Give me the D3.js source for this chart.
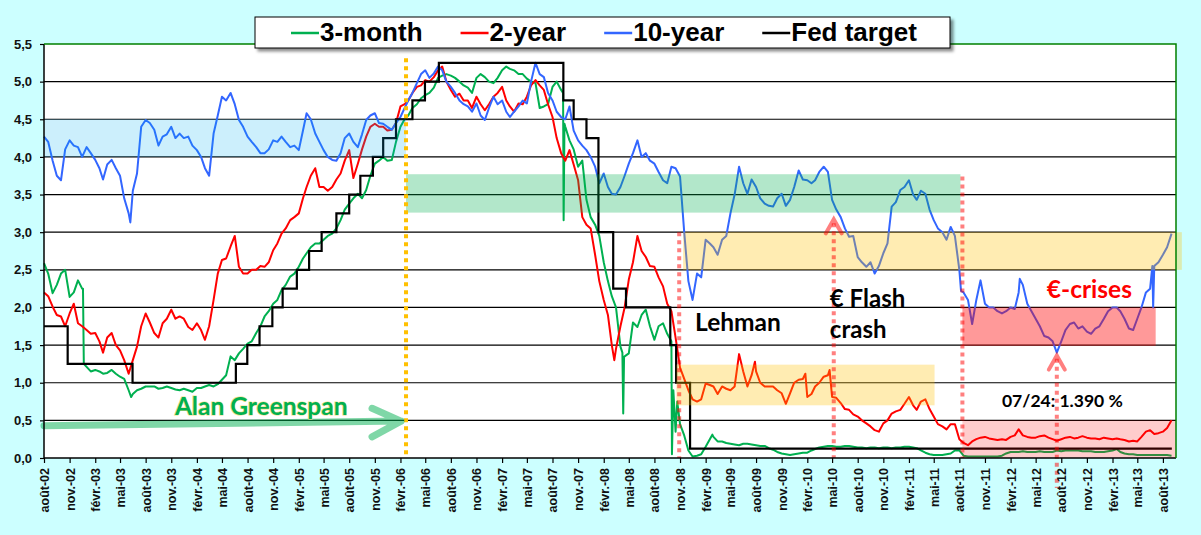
<!DOCTYPE html>
<html lang="fr">
<head>
<meta charset="UTF-8" />
<title>Taux US 2002-2013</title>
<script src="https://d3js.org/d3.v7.min.js"></script>
<style>
  html, body { margin: 0; padding: 0; background: #ccffff; }
  svg { display: block; }
  .axis text { font-family: "Liberation Sans", Arial, sans-serif; font-weight: bold; fill: #111; }
  .note { font-family: Lato, "Open Sans", sans-serif; font-weight: bold; }
  .legend text { font-family: "Liberation Sans", Arial, sans-serif; font-weight: bold; font-size: 26px; fill: #000; }
</style>
</head>
<body>
<svg id="chart" width="1201" height="535"></svg>
<script>
// ---- data ----
const parse = d3.timeParse("%Y-%m-%d");

// first of each month, août-02 .. sept.-13, and the 16th of each month in between
const months = d3.timeMonth.range(new Date(2002, 7, 1), new Date(2013, 8, 2));
const midMonths = months.slice(0, -1).map(d => d3.timeDay.offset(d, 15));

const threeMonth = [
  2.59, 2.19, 2.45, 2.14, 2.36,                                         // 2002
  1.21, 1.17, 1.12, 1.17, 1.08, 0.90, 0.90, 0.95, 0.95, 0.93, 0.93, 0.90, // 2003
  0.90, 0.93, 0.95, 0.95, 1.04, 1.35, 1.39, 1.52, 1.66, 1.88, 2.05, 2.23, // 2004
  2.41, 2.54, 2.72, 2.85, 2.90, 2.98, 3.16, 3.38, 3.51, 3.56, 3.91, 4.00, // 2005
  3.96, 4.40, 4.55, 4.70, 4.82, 4.92, 5.08, 5.08, 5.00, 4.92, 5.05, 5.06, // 2006
  4.98, 5.15, 5.17, 5.10, 5.04, 4.98, 4.67, 4.93, 4.89, 4.22, 3.87, 3.43, // 2007
  3.10, 2.60, 2.15, 1.48, 1.39, 1.74, 1.97, 1.57, 1.79, 1.55, 0.45, 0.10, // 2008
  0.03, 0.15, 0.28, 0.22, 0.19, 0.17, 0.19, 0.17, 0.16, 0.11, 0.06, 0.04, // 2009
  0.06, 0.07, 0.12, 0.15, 0.16, 0.15, 0.16, 0.14, 0.13, 0.14, 0.14, 0.13, // 2010
  0.14, 0.15, 0.13, 0.07, 0.04, 0.04, 0.06, 0.10, 0.02, 0.02, 0.02, 0.02, // 2011
  0.03, 0.08, 0.08, 0.08, 0.08, 0.08, 0.08, 0.09, 0.10, 0.10, 0.09, 0.08, // 2012
  0.08, 0.10, 0.08, 0.05, 0.04, 0.04, 0.04, 0.04, 0.03                    // 2013
];
const threeMonthMid = [
  2.45, 2.30, 2.50, 2.20, 2.25,
  1.15, 1.15, 1.13, 1.12, 1.05, 0.85, 0.92, 0.95, 0.92, 0.95, 0.91, 0.92,
  0.88, 0.93, 0.97, 0.98, 1.10, 1.30, 1.45, 1.55, 1.75, 1.95, 2.10, 2.30,
  2.45, 2.65, 2.80, 2.85, 2.95, 3.05, 3.30, 3.45, 3.45, 3.75, 3.95, 3.95,
  4.20, 4.50, 4.65, 4.78, 4.85, 5.05, 5.10, 5.05, 4.95, 4.85, 5.10, 5.00,
  5.05, 5.20, 5.15, 5.10, 5.00, 4.65, 4.70, 5.00, 4.40, 4.10, 3.95, 3.20,
  2.95, 2.35, 2.00, 1.35, 1.80, 1.90, 1.75, 1.75, 1.65, 0.35, 0.30, 0.02,
  0.05, 0.25, 0.22, 0.20, 0.18, 0.19, 0.18, 0.16, 0.13, 0.08, 0.05, 0.05,
  0.07, 0.10, 0.14, 0.16, 0.15, 0.16, 0.15, 0.14, 0.14, 0.13, 0.14, 0.14,
  0.15, 0.14, 0.10, 0.05, 0.04, 0.05, 0.10, 0.03, 0.02, 0.02, 0.02, 0.02,
  0.06, 0.08, 0.09, 0.08, 0.09, 0.08, 0.10, 0.10, 0.10, 0.09, 0.09, 0.08,
  0.09, 0.12, 0.06, 0.05, 0.04, 0.04, 0.04, 0.04
];
const twoYear = [
  2.20, 2.01, 1.88, 1.92, 1.79,
  1.70, 1.66, 1.40, 1.66, 1.43, 1.12, 1.48, 1.92, 1.66, 1.79, 1.97, 1.88,
  1.74, 1.79, 1.57, 2.10, 2.63, 2.81, 2.54, 2.45, 2.50, 2.54, 2.76, 2.98,
  3.16, 3.25, 3.60, 3.85, 3.60, 3.60, 3.78, 4.09, 3.91, 4.27, 4.44, 4.40,
  4.36, 4.67, 4.75, 4.93, 5.02, 5.06, 5.20, 4.89, 4.84, 4.75, 4.80, 4.62,
  4.80, 4.93, 4.67, 4.71, 4.80, 5.02, 4.89, 4.53, 4.05, 4.09, 3.69, 3.10,
  2.70, 2.10, 1.50, 1.75, 2.37, 2.95, 2.67, 2.54, 2.28, 1.95, 1.20, 0.90,
  0.75, 0.99, 0.95, 0.95, 0.90, 1.38, 0.95, 1.15, 0.95, 0.95, 0.86, 0.86,
  1.04, 0.81, 0.95, 1.08, 0.81, 0.73, 0.64, 0.55, 0.46, 0.37, 0.46, 0.59,
  0.64, 0.81, 0.64, 0.78, 0.55, 0.42, 0.45, 0.25, 0.17, 0.25, 0.28, 0.25,
  0.25, 0.28, 0.38, 0.28, 0.27, 0.30, 0.25, 0.25, 0.28, 0.27, 0.27, 0.26,
  0.27, 0.25, 0.25, 0.22, 0.22, 0.35, 0.32, 0.35, 0.50
];
const twoYearMid = [
  2.15, 1.90, 1.75, 2.05, 1.75,
  1.65, 1.55, 1.60, 1.50, 1.30, 1.30, 1.75, 1.80, 1.60, 1.85, 1.85, 1.85,
  1.70, 1.70, 1.75, 2.45, 2.65, 2.95, 2.45, 2.50, 2.55, 2.60, 2.85, 3.05,
  3.20, 3.45, 3.75, 3.60, 3.55, 3.70, 3.95, 3.72, 4.10, 4.40, 4.40, 4.35,
  4.45, 4.70, 4.85, 4.95, 5.00, 5.15, 5.00, 4.80, 4.75, 4.65, 4.70, 4.70,
  4.85, 4.75, 4.60, 4.70, 4.95, 4.95, 4.70, 4.25, 3.95, 3.90, 3.20, 3.05,
  2.35, 1.90, 1.45, 2.00, 2.60, 2.75, 2.55, 2.40, 2.05, 1.60, 1.05, 0.78,
  0.78, 0.97, 0.85, 0.92, 0.95, 1.15, 1.10, 1.00, 0.95, 0.90, 0.72, 1.00,
  1.05, 0.85, 1.00, 1.10, 0.80, 0.65, 0.58, 0.50, 0.42, 0.35, 0.50, 0.62,
  0.72, 0.70, 0.75, 0.65, 0.45, 0.38, 0.45, 0.20, 0.22, 0.27, 0.26, 0.24,
  0.24, 0.30, 0.30, 0.27, 0.29, 0.27, 0.23, 0.27, 0.26, 0.29, 0.26, 0.25,
  0.26, 0.26, 0.24, 0.23, 0.28, 0.37, 0.33, 0.40
];
const tenYear = [
  4.27, 3.95, 3.69, 4.22, 4.13,
  4.13, 3.96, 3.70, 3.96, 3.75, 3.25, 3.78, 4.49, 4.36, 4.27, 4.40, 4.31,
  4.27, 4.09, 3.85, 4.31, 4.80, 4.85, 4.49, 4.27, 4.13, 4.05, 4.22, 4.27,
  4.13, 4.09, 4.58, 4.31, 4.09, 3.96, 4.05, 4.31, 4.13, 4.49, 4.58, 4.44,
  4.36, 4.53, 4.75, 4.98, 5.15, 5.11, 5.15, 4.93, 4.75, 4.67, 4.71, 4.49,
  4.80, 4.75, 4.53, 4.67, 4.71, 5.25, 5.06, 4.75, 4.53, 4.67, 4.22, 4.09,
  3.87, 3.78, 3.51, 3.60, 3.91, 4.22, 4.05, 3.91, 3.69, 3.87, 3.74, 2.35,
  2.45, 2.90, 2.80, 2.90, 3.25, 3.87, 3.51, 3.60, 3.38, 3.34, 3.51, 3.43,
  3.82, 3.69, 3.69, 3.87, 3.43, 3.20, 2.94, 2.67, 2.54, 2.45, 2.72, 3.34,
  3.56, 3.69, 3.43, 3.51, 3.16, 3.00, 3.07, 2.50, 2.10, 2.10, 2.05, 2.00,
  1.92, 2.00, 2.20, 2.05, 1.85, 1.62, 1.55, 1.55, 1.78, 1.72, 1.68, 1.72,
  1.85, 2.00, 1.95, 1.72, 1.85, 2.20, 2.55, 2.70, 2.98
];
const tenYearMid = [
  4.20, 3.75, 4.10, 4.15, 4.00,
  4.05, 3.85, 3.90, 3.85, 3.45, 3.55, 4.40, 4.45, 4.15, 4.30, 4.25, 4.25,
  4.15, 4.00, 3.75, 4.55, 4.75, 4.70, 4.40, 4.20, 4.05, 4.10, 4.20, 4.20,
  4.15, 4.35, 4.50, 4.20, 4.00, 3.95, 4.25, 4.20, 4.30, 4.55, 4.45, 4.40,
  4.45, 4.65, 4.85, 5.10, 5.05, 5.20, 5.00, 4.85, 4.70, 4.60, 4.55, 4.65,
  4.70, 4.60, 4.60, 4.75, 5.00, 5.10, 4.85, 4.60, 4.50, 4.35, 4.15, 4.00,
  3.65, 3.60, 3.50, 3.75, 4.05, 4.00, 3.95, 3.80, 3.65, 3.85, 3.00, 2.10,
  2.40, 2.85, 2.70, 2.95, 3.50, 3.65, 3.70, 3.45, 3.35, 3.45, 3.35, 3.60,
  3.70, 3.65, 3.80, 3.80, 3.30, 3.05, 2.95, 2.60, 2.60, 2.55, 2.85, 3.40,
  3.60, 3.50, 3.55, 3.30, 3.05, 2.90, 2.95, 2.20, 1.78, 2.36, 2.00, 1.95,
  1.95, 1.98, 2.30, 1.95, 1.75, 1.60, 1.40, 1.70, 1.80, 1.75, 1.65, 1.75,
  1.95, 2.00, 1.85, 1.70, 2.00, 2.25, 2.60, 2.80
];

// spikes and extremes that fall between the sampled days
const threeMonthExtra = [
  ["2002-12-19", 2.25], ["2002-12-22", 1.25], ["2003-06-10", 0.81],
  ["2007-09-08", 4.85], ["2007-09-10", 3.16], ["2007-09-13", 4.44],
  ["2008-04-08", 1.40], ["2008-04-11", 0.59], ["2008-04-14", 1.35],
  ["2008-10-03", 0.05], ["2008-10-08", 0.90], ["2008-10-22", 0.75], ["2009-02-25", 0.31]
];
const twoYearExtra = [
  ["2008-03-10", 1.30], ["2009-07-28", 1.28], ["2010-01-25", 1.12], ["2010-04-22", 1.17]
];
const tenYearExtra = [
  ["2003-06-07", 3.13], ["2011-08-07", 2.22], ["2012-03-05", 2.38],
  ["2013-06-24", 2.55], ["2013-06-27", 2.00]
];

// Fed funds target, value in force from each date
const fedDates = [
  "2002-08-01", "2002-10-25", "2003-06-15", "2004-06-20", "2004-07-31", "2004-09-13",
  "2004-10-29", "2004-12-05", "2005-01-25", "2005-03-10", "2005-04-24", "2005-06-16",
  "2005-08-01", "2005-09-10", "2005-10-25", "2005-12-01", "2006-01-16", "2006-03-16",
  "2006-04-30", "2006-06-19", "2007-09-09", "2007-10-16", "2007-12-01", "2008-01-13",
  "2008-03-06", "2008-04-21", "2008-09-27", "2008-10-18", "2008-12-07", "2013-09-02"
];
const fedRates = [
  1.75, 1.25, 1.00, 1.25, 1.50, 1.75,
  2.00, 2.25, 2.50, 2.75, 3.00, 3.25,
  3.50, 3.75, 4.00, 4.25, 4.50, 4.75,
  5.00, 5.25, 4.75, 4.50, 4.25, 3.00,
  2.25, 2.00, 1.50, 1.00, 0.125, 0.125
];

const seriesNames = ["3-month", "2-year", "10-year", "Fed target"];
const yTicks = [0, 0.5, 1, 1.5, 2, 2.5, 3, 3.5, 4, 4.5, 5, 5.5];
const frMonths = ["janv.", "févr.", "mars", "avr.", "mai", "juin", "juil.", "août", "sept.", "oct.", "nov.", "déc."];

// shaded zones: [from, to, low, high]
const zones = [
  ["2002-08-01", "2006-02-21", 4.0, 4.5],
  ["2006-02-21", "2011-08-05", 3.26, 3.77],
  ["2008-11-12", "2013-10-08", 2.5, 3.0],
  ["2008-10-19", "2011-05-04", 0.70, 1.24],
  ["2011-08-12", "2013-07-06", 1.49, 2.0],
  ["2011-08-12", "2013-09-17", 0, 0.5]
];
// dotted event lines: [date, top, bottom]
const events = [
  ["2006-02-21", 5.31, 0],
  ["2008-10-29", 3.0, 0],
  ["2010-05-07", 3.12, 0],
  ["2011-08-12", 3.74, 0],
  ["2012-07-16", 1.32, -0.4]
];
// chevrons on top of two event lines: [date, tip]
const arrowTips = [["2010-05-07", 3.17], ["2012-07-16", 1.36]];

// ---- styles ----
const lineColors = ["#00b050", "#ff0000", "#3366ff", "#000000"];
const zoneStyle = [
  ["#00b0f0", 0.2], ["#00b050", 0.3], ["#ffc000", 0.3],
  ["#ffc000", 0.3], ["#ff0000", 0.4], ["#ff0000", 0.2]
];
const eventColors = ["#ffc000", "#ff0000", "#ff0000", "#ff0000", "#ff0000"];

// ---- scales ----
const W = 1201, H = 535;
const margin = { top: 44, right: 25, bottom: 77, left: 44 };
const svg = d3.select("#chart");

const x = d3.scaleTime()
  .domain([new Date(2002, 7, 1), new Date(2013, 8, 17)])
  .range([margin.left, W - margin.right]);
const y = d3.scaleLinear()
  .domain([0, 5.5])
  .range([H - margin.bottom, margin.top]);

const buildSeries = (vals, mids, extra) => {
  const pts = months.map((d, i) => ({ date: d, v: vals[i] }));
  midMonths.forEach((d, i) => pts.push({ date: d, v: mids[i] }));
  extra.forEach(([d, v]) => pts.push({ date: parse(d), v: v }));
  return pts.sort((a, b) => a.date - b.date);
};
const allSeries = [
  buildSeries(threeMonth, threeMonthMid, threeMonthExtra),
  buildSeries(twoYear, twoYearMid, twoYearExtra),
  buildSeries(tenYear, tenYearMid, tenYearExtra)
];
const fed = fedDates.map((d, i) => ({ date: parse(d), v: fedRates[i] }));

const defs = svg.append("defs");
const shadow = defs.append("filter").attr("id", "shadow")
  .attr("x", "-10%").attr("y", "-30%").attr("width", "120%").attr("height", "180%");
shadow.append("feDropShadow").attr("dx", 3).attr("dy", 3)
  .attr("stdDeviation", 1.6).attr("flood-color", "#000").attr("flood-opacity", 0.45);

// background + plot area
svg.append("rect").attr("width", W).attr("height", H).attr("fill", "#ccffff");
svg.append("rect")
  .attr("x", x.range()[0]).attr("y", y(5.5))
  .attr("width", x.range()[1] - x.range()[0]).attr("height", y(0) - y(5.5))
  .attr("fill", "#fff");

// gridlines
svg.append("g").selectAll("line")
  .data(yTicks.filter(v => v > 0 && v < 5.5))
  .join("line")
  .attr("x1", x.range()[0]).attr("x2", x.range()[1])
  .attr("y1", d => y(d)).attr("y2", d => y(d))
  .attr("stroke", "#000").attr("stroke-width", 1.2);

// series
const line = d3.line().x(d => x(d.date)).y(d => y(d.v));
svg.append("g").selectAll("path")
  .data(allSeries)
  .join("path")
  .attr("d", line)
  .attr("fill", "none")
  .attr("stroke", (d, i) => lineColors[i])
  .attr("stroke-width", 2)
  .attr("stroke-linejoin", "round");

svg.append("path")
  .datum(fed)
  .attr("d", line.curve(d3.curveStepAfter))
  .attr("fill", "none")
  .attr("stroke", lineColors[3])
  .attr("stroke-width", 2.2);

// shaded zones (drawn over the lines, translucent)
svg.append("g").selectAll("rect")
  .data(zones)
  .join("rect")
  .attr("x", d => x(parse(d[0])))
  .attr("width", d => x(parse(d[1])) - x(parse(d[0])))
  .attr("y", d => y(d[3]))
  .attr("height", d => y(d[2]) - y(d[3]))
  .attr("fill", (d, i) => zoneStyle[i][0])
  .attr("fill-opacity", (d, i) => zoneStyle[i][1]);

// dotted event lines
svg.append("g").selectAll("line")
  .data(events)
  .join("line")
  .attr("x1", d => x(parse(d[0]))).attr("x2", d => x(parse(d[0])))
  .attr("y1", d => y(d[1])).attr("y2", d => y(d[2]))
  .attr("stroke", (d, i) => eventColors[i])
  .attr("stroke-opacity", (d, i) => i === 0 ? 1 : 0.5)
  .attr("stroke-width", 4)
  .attr("stroke-dasharray", "4,4");

svg.append("g").selectAll("path")
  .data(arrowTips)
  .join("path")
  .attr("d", d => {
    const tx = x(parse(d[0])), ty = y(d[1]);
    return `M${tx - 8},${ty + 14}L${tx},${ty}L${tx + 8},${ty + 14}`;
  })
  .attr("fill", "none")
  .attr("stroke", "#ff0000").attr("stroke-opacity", 0.5)
  .attr("stroke-width", 4).attr("stroke-linecap", "round");

// Greenspan arrow
const gsStart = [parse("2002-08-01"), 0.43];
const gsTip = [parse("2006-02-03"), 0.49];
const gsArm = parse("2005-10-22");
svg.append("path")
  .attr("d", `M${x(gsStart[0])},${y(gsStart[1])}L${x(gsTip[0])},${y(gsTip[1])}` +
    `M${x(gsArm)},${y(0.66)}L${x(gsTip[0])},${y(gsTip[1])}L${x(gsArm)},${y(0.28)}`)
  .attr("fill", "none")
  .attr("stroke", "#00b050").attr("stroke-opacity", 0.5)
  .attr("stroke-width", 7).attr("stroke-linecap", "round").attr("stroke-linejoin", "round");

// axes
const yAxis = svg.append("g").attr("class", "axis")
  .attr("transform", `translate(${x.range()[0]},0)`)
  .call(d3.axisLeft(y).tickValues(yTicks).tickSize(4).tickPadding(8)
    .tickFormat(d => d.toFixed(1).replace(".", ",")));
yAxis.selectAll("text").attr("font-size", 13);
yAxis.select(".domain").remove();
yAxis.selectAll(".tick line").attr("stroke", "#000").attr("stroke-width", 1.2);

const xTicks = d3.timeMonth.range(new Date(2002, 7, 1), new Date(2013, 8, 2), 3);
const xAxis = svg.append("g").attr("class", "axis")
  .attr("transform", `translate(0,${y(0)})`)
  .call(d3.axisBottom(x).tickValues(xTicks).tickSize(5)
    .tickFormat(d => `${frMonths[d.getMonth()]}-${String(d.getFullYear()).slice(2)}`));
xAxis.select(".domain").remove();
xAxis.selectAll(".tick line").attr("stroke", "#000").attr("stroke-width", 1.2);
xAxis.selectAll("text")
  .attr("font-size", 12.5)
  .attr("text-anchor", "end")
  .attr("transform", "rotate(-90)")
  .attr("x", -10).attr("y", 0).attr("dy", "0.36em");

// plot frame: black axes, green top/right
svg.append("line").attr("x1", x.range()[0]).attr("x2", x.range()[0])
  .attr("y1", y(5.5)).attr("y2", y(0)).attr("stroke", "#000").attr("stroke-width", 1.5);
svg.append("line").attr("x1", x.range()[0]).attr("x2", x.range()[1])
  .attr("y1", y(0)).attr("y2", y(0)).attr("stroke", "#000").attr("stroke-width", 1.5);
svg.append("path")
  .attr("d", `M${x.range()[0]},${y(5.5)}H${x.range()[1]}V${y(0)}`)
  .attr("fill", "none").attr("stroke", "#008000").attr("stroke-width", 1.5);

// annotations
const notes = [
  { t: "Alan Greenspan", d: "2003-11-14", v: 0.57, size: 24.5, color: "#00b050", halo: "#f3e08a" },
  { t: "Lehman", d: "2008-12-25", v: 1.69, size: 24.5, color: "#000" },
  { t: "€ Flash", d: "2010-04-23", v: 2.01, size: 24, color: "#000" },
  { t: "crash", d: "2010-04-23", v: 1.59, size: 24, color: "#000" },
  { t: "€-crises", d: "2012-06-10", v: 2.13, size: 24.5, color: "#ff0000" },
  { t: "07/24: 1.390 %", d: "2012-01-01", v: 0.68, size: 17.5, color: "#000" }
];
svg.append("g").selectAll("text")
  .data(notes)
  .join("text")
  .attr("class", "note")
  .attr("x", d => x(parse(d.d)))
  .attr("y", d => y(d.v))
  .attr("font-size", d => d.size)
  .attr("fill", d => d.color)
  .attr("stroke", d => d.halo || "none")
  .attr("stroke-width", d => d.halo ? 1.2 : 0)
  .attr("paint-order", "stroke")
  .text(d => d.t);

// legend
const legend = svg.append("g").attr("class", "legend");
legend.append("rect")
  .attr("x", 255).attr("y", 17).attr("width", 695).attr("height", 31)
  .attr("fill", "#fff").attr("stroke", "#000").attr("stroke-width", 1)
  .attr("filter", "url(#shadow)");
let lx = 291;
seriesNames.forEach((name, i) => {
  legend.append("line")
    .attr("x1", lx).attr("x2", lx + 28).attr("y1", 33).attr("y2", 33)
    .attr("stroke", lineColors[i]).attr("stroke-width", 2.5);
  const t = legend.append("text").attr("x", lx + 29).attr("y", 41).text(name);
  lx = lx + 29 + t.node().getComputedTextLength() + 38;
});
</script>
</body>
</html>
